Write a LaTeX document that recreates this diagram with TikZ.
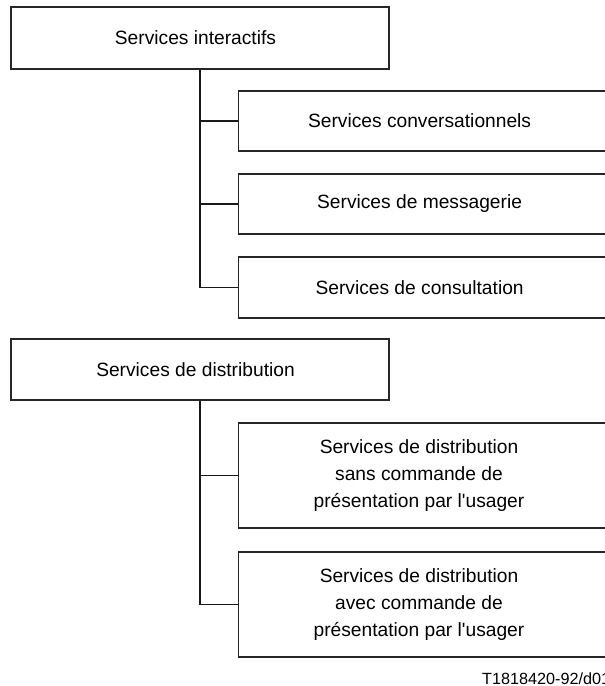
\documentclass[tikz,border=0pt]{standalone}
\usepackage{fontspec}
\setmainfont{Liberation Sans}[Ligatures=TeXOff]
\begin{document}
\begin{tikzpicture}[x=1pt,y=-1pt,
  txt/.style={inner sep=0pt,align=center,font=\fontsize{19.2}{26.7}\selectfont},
  box/.style={txt,draw=black!85,line width=1.2pt,rectangle},
  parent/.style={box,minimum width=378pt,minimum height=62pt},
  child/.style={box,anchor=west,minimum width=380pt},
  link/.style={draw=black!90,line width=1.2pt}]
\useasboundingbox (0,0) rectangle (605,686);
\clip (0,0) rectangle (605,686);
% group 1
\node[parent] (top) at (200,38) {\hspace*{-9pt}Services interactifs};
\node[child,minimum height=60pt] (c1) at (238,121) {\hspace*{-18pt}Services conversationnels};
\node[child,minimum height=60pt] (c2) at (238,204) {\hspace*{-18pt}Services de messagerie};
\node[child,minimum height=61pt] (c3) at (238,287.5) {\hspace*{-18pt}Services de consultation};
\draw[link] (top.south) |- (c3.west);
\draw[link] (top.south |- c1.west) -- (c1.west);
\draw[link] (top.south |- c2.west) -- (c2.west);
% group 2
\node[parent,minimum height=61pt] (dist) at (200,369.5) {\hspace*{-9pt}Services de distribution};
\node[child,minimum height=105pt] (d1) at (238,475.5) {};
\node[txt] (d1t) at (419,475.5) {Services de distribution\\sans commande de\\présentation par l'usager};
\node[child,minimum height=105pt] (d2) at (238,604.5) {};
\node[txt] (d2t) at (419,604.5) {Services de distribution\\avec commande de\\présentation par l'usager};
\draw[link] (dist.south) |- (d2.west);
\draw[link] (dist.south |- d1.west) -- (d1.west);
% reference
\node[anchor=base west,inner sep=0pt,font=\fontsize{16.2}{19}\selectfont] (ref) at (482,684) {T1818420-92/d01};
\end{tikzpicture}
\end{document}
